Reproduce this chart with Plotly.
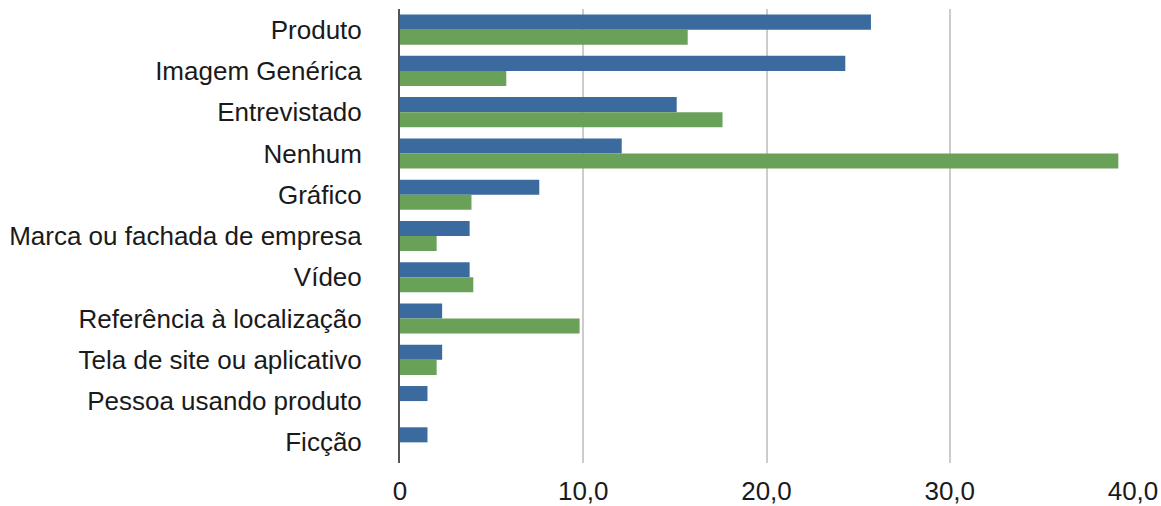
import plotly.graph_objects as go

categories = ["Produto", "Imagem Genérica", "Entrevistado", "Nenhum", "Gráfico",
              "Marca ou fachada de empresa", "Vídeo", "Referência à localização",
              "Tela de site ou aplicativo", "Pessoa usando produto", "Ficção"]
serie_azul = [25.7, 24.3, 15.1, 12.1, 7.6, 3.8, 3.8, 2.3, 2.3, 1.5, 1.5]
serie_verde = [15.7, 5.8, 17.6, 39.2, 3.9, 2.0, 4.0, 9.8, 2.0, 0, 0]
tick_vals = [0, 10, 20, 30, 40]
tick_text = ["0", "10,0", "20,0", "30,0", "40,0"]

fig = go.Figure()
fig.add_trace(go.Bar(y=categories, x=serie_azul, orientation="h",
                     marker=dict(color="#3a6a9e", line=dict(width=0)), name="A"))
fig.add_trace(go.Bar(y=categories, x=serie_verde, orientation="h",
                     marker=dict(color="#6aa158", line=dict(width=0)), name="B"))

fig.update_layout(
    width=1161, height=506,
    margin=dict(l=400, r=28, t=9, b=43),
    barmode="group", bargap=0.27, bargroupgap=0,
    plot_bgcolor="white", paper_bgcolor="white",
    showlegend=False,
    font=dict(family="Liberation Sans, Arial, sans-serif", size=26, color="#1a1a1a"),
)
fig.update_xaxes(range=[0, 40], tickvals=tick_vals, ticktext=tick_text,
                 showgrid=True, gridcolor="#cccccc", gridwidth=2,
                 zeroline=False, showline=False, automargin=False,
                 ticks="outside", ticklen=5, tickcolor="rgba(0,0,0,0)")
fig.update_yaxes(autorange="reversed", showgrid=False, showline=True,
                 linecolor="#555555", linewidth=2, automargin=False,
                 ticks="outside", ticklen=31, tickcolor="rgba(0,0,0,0)")
fig.write_html("out.html")
